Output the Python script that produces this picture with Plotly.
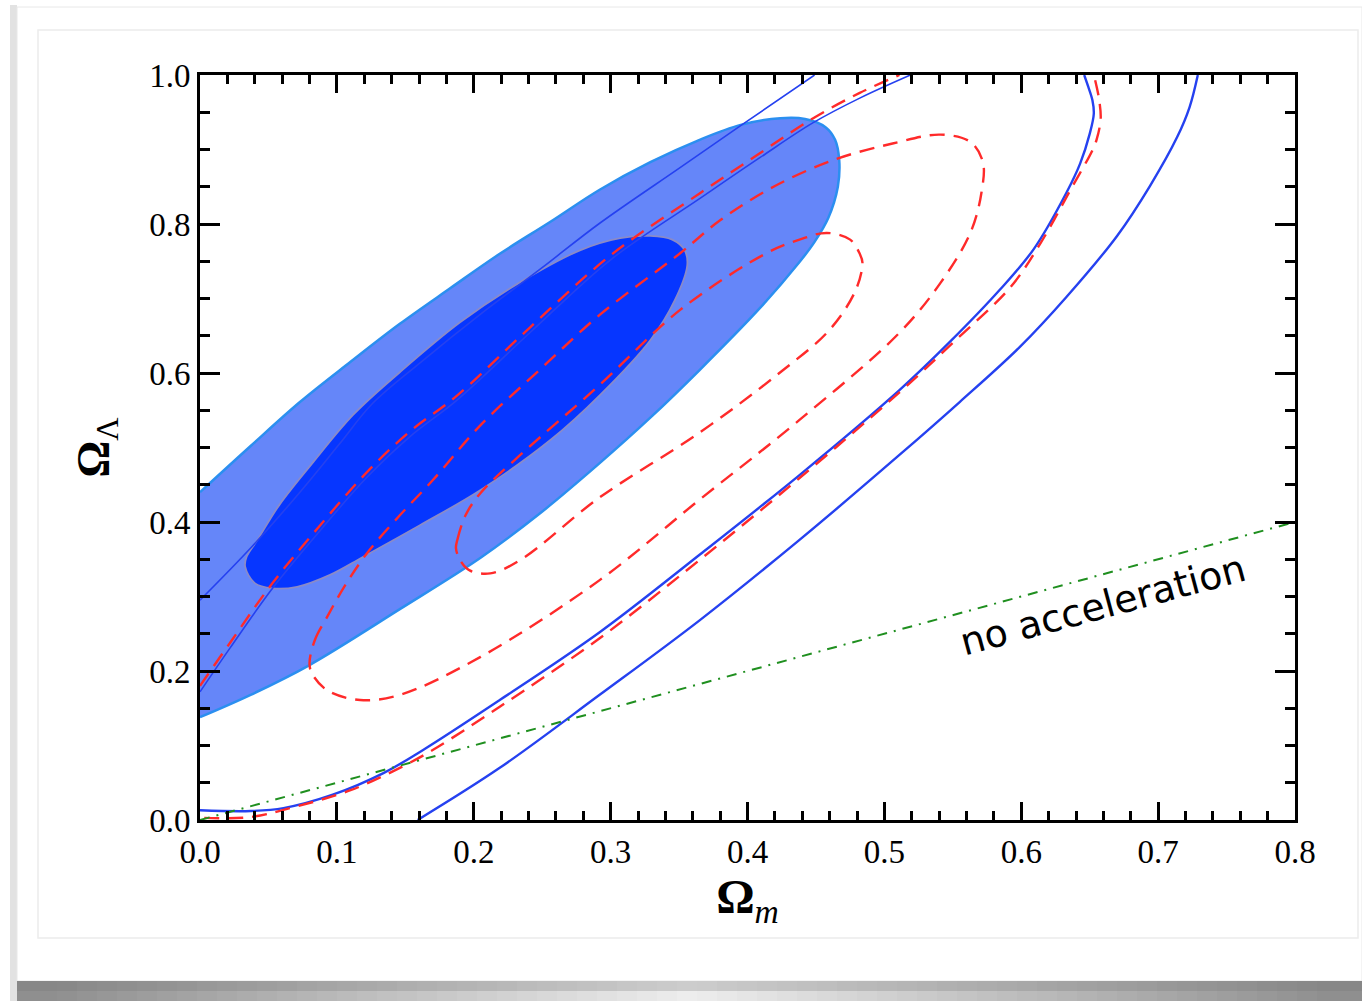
import plotly.graph_objects as go

# ---------------- data (Omega_m, Omega_Lambda) ----------------
# 2-sigma filled region (light blue)
outer_fill_x = [0.000, 0.037, 0.073, 0.110, 0.146, 0.183, 0.219, 0.256, 0.292, 0.329, 0.365, 0.395,
                0.424, 0.442, 0.457, 0.464, 0.467, 0.466, 0.459, 0.449, 0.438, 0.409, 0.365, 0.329,
                0.292, 0.248, 0.205, 0.146, 0.080, 0.037, 0.000]
outer_fill_y = [0.440, 0.502, 0.561, 0.615, 0.666, 0.714, 0.760, 0.803, 0.846, 0.883, 0.913, 0.933,
                0.942, 0.941, 0.930, 0.913, 0.886, 0.850, 0.808, 0.776, 0.749, 0.687, 0.604, 0.540,
                0.479, 0.411, 0.352, 0.283, 0.208, 0.168, 0.138]

# 1-sigma filled region (dark blue)
inner_fill_x = [0.033, 0.040, 0.053, 0.071, 0.095, 0.119, 0.161, 0.205, 0.256, 0.292, 0.329, 0.347,
                0.356, 0.354, 0.345, 0.329, 0.307, 0.278, 0.234, 0.190, 0.146, 0.112, 0.083, 0.058,
                0.042, 0.034, 0.033]
inner_fill_y = [0.340, 0.318, 0.311, 0.313, 0.329, 0.353, 0.396, 0.443, 0.510, 0.570, 0.644, 0.698,
                0.745, 0.765, 0.779, 0.784, 0.781, 0.765, 0.722, 0.668, 0.601, 0.544, 0.481, 0.423,
                0.376, 0.353, 0.340]

# blue solid contours
blue_a_x = [0.000, 0.037, 0.073, 0.102, 0.126, 0.161, 0.205, 0.249, 0.292, 0.351, 0.395, 0.449]
blue_a_y = [0.295, 0.365, 0.440, 0.505, 0.559, 0.614, 0.679, 0.740, 0.801, 0.876, 0.932, 1.000]

blue_b_x = [0.000, 0.022, 0.053, 0.088, 0.122, 0.153, 0.188, 0.241, 0.300, 0.365, 0.409, 0.448, 0.482, 0.519]
blue_b_y = [0.172, 0.231, 0.311, 0.389, 0.460, 0.514, 0.564, 0.654, 0.752, 0.834, 0.889, 0.936, 0.969, 1.000]

blue_c_x = [0.646, 0.649, 0.652, 0.653, 0.650, 0.643, 0.633, 0.609, 0.584, 0.548, 0.511, 0.438, 0.365,
            0.292, 0.219, 0.163, 0.134, 0.097, 0.061, 0.037, 0.000]
blue_c_y = [1.000, 0.984, 0.966, 0.948, 0.921, 0.881, 0.842, 0.766, 0.711, 0.642, 0.577, 0.463, 0.356,
            0.252, 0.161, 0.094, 0.063, 0.034, 0.016, 0.012, 0.013]

blue_d_x = [0.159, 0.219, 0.292, 0.365, 0.438, 0.511, 0.555, 0.599, 0.633, 0.670, 0.694, 0.714, 0.723, 0.729]
blue_d_y = [0.000, 0.070, 0.168, 0.268, 0.376, 0.490, 0.561, 0.635, 0.702, 0.784, 0.851, 0.917, 0.957, 1.000]

# red dashed contours
red_outer_x = [0.000, 0.022, 0.053, 0.088, 0.122, 0.153, 0.188, 0.241, 0.300, 0.365, 0.409, 0.448, 0.482, 0.511]
red_outer_y = [0.180, 0.238, 0.318, 0.396, 0.467, 0.521, 0.570, 0.661, 0.758, 0.841, 0.895, 0.942, 0.976, 1.000]

red_right_x = [0.654, 0.657, 0.658, 0.655, 0.652, 0.636, 0.614, 0.592, 0.552, 0.511, 0.438, 0.365,
               0.292, 0.219, 0.170, 0.146, 0.110, 0.068, 0.037, 0.000]
red_right_y = [0.993, 0.966, 0.940, 0.913, 0.899, 0.846, 0.774, 0.715, 0.644, 0.574, 0.459, 0.349,
               0.244, 0.152, 0.094, 0.070, 0.040, 0.017, 0.004, 0.003]

red_mid_x = [0.080, 0.084, 0.093, 0.106, 0.122, 0.146, 0.170, 0.205, 0.248, 0.292, 0.351, 0.380,
             0.419, 0.463, 0.506, 0.541, 0.563, 0.572, 0.571, 0.563, 0.541, 0.511, 0.438, 0.365,
             0.292, 0.205, 0.146, 0.117, 0.093, 0.082, 0.080]
red_mid_y = [0.210, 0.242, 0.273, 0.315, 0.358, 0.409, 0.456, 0.530, 0.604, 0.678, 0.761, 0.805,
             0.850, 0.886, 0.908, 0.920, 0.910, 0.883, 0.843, 0.789, 0.721, 0.654, 0.537, 0.430,
             0.322, 0.219, 0.168, 0.161, 0.174, 0.196, 0.210]

red_in_x = [0.187, 0.188, 0.194, 0.205, 0.234, 0.292, 0.351, 0.414, 0.438, 0.458, 0.475, 0.482,
            0.484, 0.479, 0.460, 0.424, 0.365, 0.292, 0.234, 0.212, 0.197, 0.190, 0.187]
red_in_y = [0.365, 0.376, 0.409, 0.439, 0.490, 0.584, 0.685, 0.761, 0.779, 0.788, 0.779, 0.760,
            0.748, 0.711, 0.658, 0.601, 0.520, 0.433, 0.349, 0.331, 0.335, 0.349, 0.365]

# no-acceleration line
noacc_x = [0.0, 0.8]
noacc_y = [0.0, 0.4]

x_ticks = [0.0, 0.1, 0.2, 0.3, 0.4, 0.5, 0.6, 0.7, 0.8]
x_ticklabels = ["0.0", "0.1", "0.2", "0.3", "0.4", "0.5", "0.6", "0.7", "0.8"]
y_ticks = [0.0, 0.2, 0.4, 0.6, 0.8, 1.0]
y_ticklabels = ["0.0", "0.2", "0.4", "0.6", "0.8", "1.0"]

# ---------------- figure ----------------
BLUE = "#2541f0"
RED = "#ff2a2a"

fig = go.Figure()
fig.add_trace(go.Scatter(x=outer_fill_x, y=outer_fill_y, mode="lines", fill="toself",
                         fillcolor="#6586f9",
                         line=dict(color="#2b8ff0", width=2.5, shape="spline", smoothing=1)))
fig.add_trace(go.Scatter(x=inner_fill_x, y=inner_fill_y, mode="lines", fill="toself",
                         fillcolor="#0636ff",
                         line=dict(color="#8a8ac8", width=1.8, shape="spline", smoothing=1)))
for xs, ys, w in [(blue_a_x, blue_a_y, 1.6), (blue_b_x, blue_b_y, 1.6),
                  (blue_c_x, blue_c_y, 2.4), (blue_d_x, blue_d_y, 2.4)]:
    fig.add_trace(go.Scatter(x=xs, y=ys, mode="lines", line=dict(color=BLUE, width=w, shape="spline")))
for xs, ys in [(red_outer_x, red_outer_y), (red_right_x, red_right_y),
               (red_mid_x, red_mid_y), (red_in_x, red_in_y)]:
    fig.add_trace(go.Scatter(x=xs, y=ys, mode="lines",
                             line=dict(color=RED, width=2.4, dash="15px,9px", shape="spline")))
fig.add_trace(go.Scatter(x=noacc_x, y=noacc_y, mode="lines",
                         line=dict(color="#1f8f1f", width=2, dash="10px,7px,2px,7px")))

fig.add_annotation(x=0.660, y=0.289, xref="x", yref="y", text="no acceleration",
                   showarrow=False, textangle=-15,
                   font=dict(family="DejaVu Sans", size=38, color="black"))

# page-like frame decoration (paper coords)
def px_x(p):
    return (p - 200) / 1095.0

def px_y(p):
    return (820 - p) / 745.0

shapes = [
    dict(type="rect", xref="paper", yref="paper", x0=px_x(10), x1=px_x(17), y0=px_y(1001), y1=px_y(5),
         fillcolor="#e2e2e2", line=dict(width=0), layer="below"),
    dict(type="rect", xref="paper", yref="paper", x0=px_x(17), x1=px_x(1362), y0=px_y(981), y1=px_y(7),
         fillcolor="white", line=dict(color="#e8e8e8", width=1), layer="below"),
    dict(type="rect", xref="paper", yref="paper", x0=px_x(38), x1=px_x(1358), y0=px_y(938), y1=px_y(30),
         fillcolor="white", line=dict(color="#ececec", width=1.5), layer="below"),
]
# bottom shadow band: darker at the sides, lighter in the middle
strip = 20
for left in range(17, 1362, strip):
    cx = left + strip / 2
    d = min(abs(cx - 690) / 640.0, 1.0)
    top_lvl = int(205 - 70 * d)
    bot_lvl = int(238 - 95 * d)
    shapes.append(dict(type="rect", xref="paper", yref="paper", x0=px_x(left), x1=px_x(min(left + strip, 1362)),
                       y0=px_y(991), y1=px_y(981), fillcolor=f"rgb({top_lvl},{top_lvl},{top_lvl})",
                       line=dict(width=0), layer="below"))
    shapes.append(dict(type="rect", xref="paper", yref="paper", x0=px_x(left), x1=px_x(min(left + strip, 1362)),
                       y0=px_y(1001), y1=px_y(991), fillcolor=f"rgb({bot_lvl},{bot_lvl},{bot_lvl})",
                       line=dict(width=0), layer="below"))

fig.update_layout(
    width=1362, height=1001,
    margin=dict(l=200, r=67, t=75, b=181),
    paper_bgcolor="white", plot_bgcolor="rgba(0,0,0,0)",
    showlegend=False,
    shapes=shapes,
    font=dict(family="Liberation Serif", color="black"),
    xaxis=dict(range=[0, 0.8], tickvals=x_ticks, ticktext=x_ticklabels,
               ticks="inside", ticklen=18, tickwidth=2.5, tickcolor="black",
               minor=dict(dtick=0.02, ticks="inside", ticklen=9, tickwidth=2.5, tickcolor="black"),
               showline=True, linewidth=3, linecolor="black", mirror="ticks",
               showgrid=False, zeroline=False,
               tickfont=dict(family="Liberation Serif", size=33, color="black"),
               title=dict(text="<b>Ω</b><sub><i>m</i></sub>", standoff=8,
                          font=dict(family="Liberation Serif", size=48, color="black"))),
    yaxis=dict(range=[0, 1], tickvals=y_ticks, ticktext=y_ticklabels,
               ticks="inside", ticklen=20, tickwidth=2.5, tickcolor="black",
               minor=dict(dtick=0.05, ticks="inside", ticklen=10, tickwidth=2.5, tickcolor="black"),
               showline=True, linewidth=3, linecolor="black", mirror="ticks",
               showgrid=False, zeroline=False,
               tickfont=dict(family="Liberation Serif", size=33, color="black"),
               title=dict(text="<b>Ω</b><sub>Λ</sub>", standoff=26,
                          font=dict(family="Liberation Serif", size=46, color="black"))),
)

fig.write_html("out.html")
